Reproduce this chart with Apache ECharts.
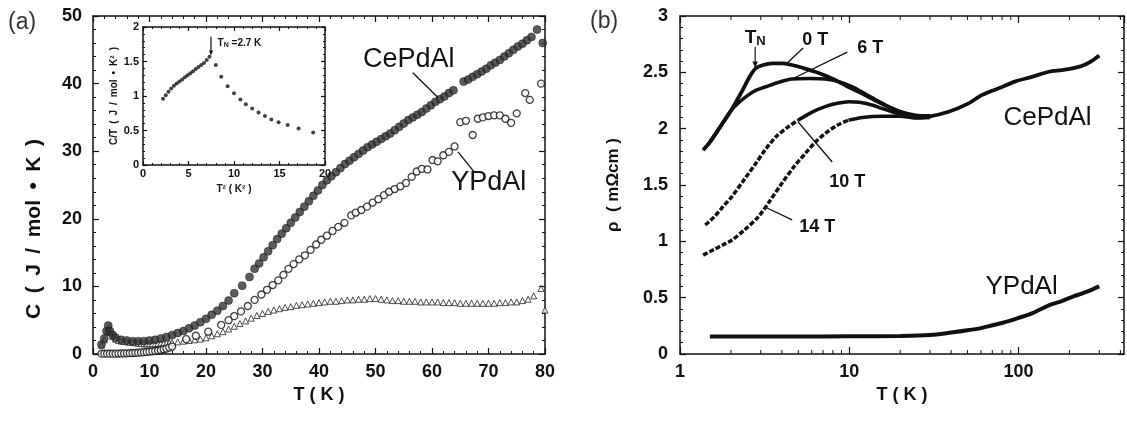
<!DOCTYPE html>
<html><head><meta charset="utf-8">
<script src="https://cdn.jsdelivr.net/npm/echarts@6/dist/echarts.min.js"></script>
<style>html,body{margin:0;padding:0;background:#fff}#c{width:1127px;height:423px}</style>
</head><body><div id="c"></div>
<script>
// ---------- Panel (a): specific heat C(T) ----------
const cePdAlT = [1.5,2,2.4,2.7,3,3.5,4,5,6,7,8,9,10,11,12,13,14,15,16,17,18,19,20,21,22,23,24,25,26.4,27.7,28.6,29.4,30.2,31,31.8,32.6,33.4,34.2,35,35.8,36.6,37.4,38.2,39,39.8,40.6,41.4,42.2,43,43.8,44.6,45.4,46.2,47,47.8,48.6,49.4,50.2,51,51.8,52.6,53.4,54.2,55,55.8,56.6,57.4,58.2,59,59.8,60.6,61.4,62.2,63,63.8,65.6,66.4,67.2,68,68.8,69.6,70.4,71.2,72,72.8,73.6,74.4,75.2,76,76.8,77.6,78.6,79.6];
const cePdAlC = [1.4,2.3,3.4,4.2,3.4,2.8,2.4,2.1,2.0,1.9,1.9,1.9,2.0,2.1,2.3,2.5,2.8,3.1,3.4,3.8,4.2,4.7,5.2,5.8,6.4,7.1,7.9,9.0,10.1,11.4,12.6,13.4,14.3,15.2,16.1,17.0,17.8,18.6,19.4,20.2,21.0,21.8,22.6,23.4,24.2,25.0,25.7,26.3,26.9,27.5,28.1,28.6,29.1,29.6,30.1,30.6,31.0,31.4,31.8,32.2,32.6,33.1,33.6,34.1,34.6,35.0,35.4,35.8,36.3,36.8,37.3,37.7,38.1,38.6,39.0,40.3,40.6,41.0,41.4,41.8,42.2,42.7,43.1,43.5,44.0,44.5,45.0,45.5,45.9,46.4,46.9,48.0,46.0];

const yPdAlT = [1.5,2,2.5,3,3.5,4,4.5,5,5.5,6,6.5,7,7.5,8,8.5,9,9.5,10,10.5,11,11.5,12,12.5,13,13.5,14,16.5,18.2,20.4,22.7,24,25,26.2,27.4,28.6,29.8,30.8,31.8,32.8,33.7,34.6,35.5,36.5,37.5,38.5,39.5,40.4,41.4,42.4,43.4,44.5,45.7,46.5,47.5,48.5,49.5,50.5,51.5,52.4,53.4,54.4,55.4,56.4,57.3,58.2,59.2,60.1,61,62,63,64,65,66,67.2,68.1,69,70,71,72,73,74,75,76.5,77.3,79.3];
const yPdAlC = [0.05,0.05,0.05,0.05,0.05,0.05,0.06,0.08,0.09,0.1,0.12,0.15,0.17,0.2,0.23,0.27,0.3,0.35,0.4,0.45,0.52,0.6,0.7,0.8,0.95,1.1,2.2,2.7,3.3,4.3,5.0,5.6,6.3,7.1,8.0,8.8,9.5,10.2,10.9,11.7,12.6,13.3,14.0,14.6,15.4,16.2,16.9,17.5,18.2,18.8,19.4,20.5,20.9,21.3,21.8,22.4,22.9,23.5,24.0,24.4,24.8,25.3,26.2,27.0,27.4,27.3,28.7,28.5,29.4,29.9,30.7,34.3,34.5,32.4,34.8,35.0,35.2,35.3,35.3,34.8,34.2,35.6,38.6,37.6,40.0];

const diffT = [1.5,2,2.5,2.8,3,3.5,4,4.5,5,5.5,6,6.5,7,7.5,8,8.5,9,9.5,10,10.5,11,11.5,12,12.5,13,13.5,14,15,16,17,18,19,20,21,22,23,24,25,26,27,28,29,30,31,32,33,34,35,36,37,38,39,40,41,42,43,44,45,46,47,48,49,50,51,52,53,54,55,56,57,58,59,60,61,62,63,64,65,66,67,68,69,70,71,72,73,74,75,76,77,78,79.3,80];
const diffC = [1.3,2.1,3.3,4.0,3.2,2.6,2.2,2.0,1.9,1.85,1.8,1.75,1.7,1.65,1.6,1.55,1.5,1.5,1.5,1.5,1.5,1.55,1.6,1.6,1.6,1.65,1.7,1.8,1.9,2.0,2.1,2.2,2.4,2.7,3.0,3.3,3.7,4.1,4.5,4.9,5.3,5.7,6.0,6.3,6.5,6.7,6.9,7.0,7.2,7.3,7.4,7.5,7.6,7.7,7.8,7.8,7.9,8.0,8.0,8.1,8.1,8.2,8.2,8.1,8.0,7.9,7.9,7.8,7.8,7.8,7.7,7.7,7.7,7.7,7.6,7.6,7.6,7.5,7.5,7.5,7.5,7.5,7.5,7.5,7.6,7.6,7.7,7.7,7.9,8.1,8.6,9.7,6.5];

// inset: C/T vs T^2
const insetT2 = [2.2,2.5,2.8,3.1,3.4,3.7,4.0,4.3,4.6,4.9,5.2,5.5,5.8,6.1,6.4,6.7,7.0,7.3,8.0,8.6,9.3,10.0,10.7,11.3,12.0,12.7,13.4,14.1,14.9,15.9,17.1,18.7];
const insetCT = [0.96,1.01,1.06,1.11,1.15,1.18,1.21,1.24,1.27,1.30,1.33,1.36,1.39,1.42,1.45,1.48,1.52,1.57,1.45,1.28,1.14,1.04,0.95,0.88,0.82,0.76,0.71,0.66,0.62,0.58,0.53,0.47];

// ---------- Panel (b): resistivity rho(T) ----------
const t0T = [1.37,1.5,1.7,2.0,2.3,2.6,2.8,3.1,3.5,4.0,4.6,5.3,6.3,7.5,8.8,9.9,12,15.6,20,24.6,30,38.6,50,61,80,96,120,151,180,208,240,270,300];
const t0R = [1.81,1.88,2.0,2.16,2.32,2.47,2.535,2.565,2.58,2.58,2.565,2.54,2.505,2.46,2.41,2.37,2.31,2.22,2.15,2.105,2.11,2.15,2.22,2.30,2.37,2.42,2.46,2.505,2.52,2.535,2.56,2.60,2.65];
const t6T = [1.37,1.5,1.7,2.0,2.3,2.54,2.8,3.18,3.8,4.58,5.9,7.2,8.6,10.5,12.4,15,17.9,20,24.6,30];
const t6R = [1.81,1.88,2.0,2.16,2.25,2.30,2.34,2.37,2.41,2.44,2.445,2.44,2.42,2.37,2.31,2.24,2.18,2.15,2.12,2.115];
const t10T = [1.41,1.6,1.8,2.02,2.4,2.8,3.18,3.7,4.3,5.0,6.0,7.2,8.5,9.9,11.5,13.6,15.6,17.9,20,24.6,30];
const t10R = [1.145,1.22,1.31,1.395,1.55,1.69,1.81,1.93,2.01,2.076,2.145,2.195,2.225,2.24,2.235,2.21,2.18,2.15,2.13,2.1,2.105];
const t14T = [1.37,1.6,1.8,2.02,2.4,2.91,3.4,4.0,4.7,5.5,6.3,7.2,8.5,9.9,12,15.6,20,24.6,30];
const t14R = [0.878,0.93,0.97,1.01,1.10,1.22,1.36,1.515,1.66,1.78,1.88,1.957,2.03,2.076,2.10,2.11,2.11,2.095,2.1];
const yRhoT = [1.5,3,5,10,20,30,40,50,60,70,80,100,120,150,180,210,240,270,300];
const yRhoR = [0.155,0.155,0.155,0.157,0.16,0.168,0.19,0.21,0.23,0.255,0.275,0.32,0.36,0.43,0.47,0.51,0.54,0.57,0.60];

// tick values
const logMajor = [1,10,100];
const logMinor = [2,3,4,5,6,7,8,9,20,30,40,50,60,70,80,90,200,300,400];

const FONT = "'Liberation Sans', Arial, Helvetica, sans-serif";
const INK = '#111';
const pairs = (xs, ys) => xs.map((x, i) => [x, ys[i]]);
const subset = (xs, ys, f) => pairs(xs, ys).filter(p => f(p[0]));

function valAxis(grid, pos, min, max, interval, opts) {
  opts = opts || {};
  const mirror = pos === 'top' || pos === 'right';
  return Object.assign({
    type: 'value', gridIndex: grid, position: pos, min, max, interval,
    axisLine: { show: true, onZero: false, lineStyle: { color: INK, width: 1.5 } },
    axisTick: { show: true, inside: true, length: opts.tick || 6, lineStyle: { color: INK, width: 1.2 } },
    minorTick: { show: true, splitNumber: opts.minor || 5, length: opts.mtick || 3, lineStyle: { color: INK, width: 1 } },
    splitLine: { show: false },
    axisLabel: mirror ? { show: false } : {
      show: true, color: INK, fontFamily: FONT, fontWeight: 'bold',
      fontSize: opts.fs || 18, margin: opts.margin || 8,
      formatter: v => String(+v.toFixed(2))
    }
  }, opts.extra || {});
}

function logAxis(pos) {
  const mirror = pos === 'top';
  return {
    type: 'log', logBase: 10, gridIndex: 2, position: pos, min: 1, max: 420,
    axisLine: { show: true, onZero: false, lineStyle: { color: INK, width: 1.5 } },
    axisTick: { show: true, inside: true, length: 7, lineStyle: { color: INK, width: 1.2 } },
    minorTick: { show: false },
    splitLine: { show: false },
    axisLabel: mirror ? { show: false } : {
      show: true, color: INK, fontFamily: FONT, fontWeight: 'bold', fontSize: 18, margin: 9,
      showMinLabel: true, showMaxLabel: false,
      formatter: v => { const r = Math.round(v); return logMajor.indexOf(r) >= 0 ? String(r) : ''; }
    },
    name: mirror ? '' : 'T ( K )', nameLocation: 'middle', nameGap: 31,
    nameTextStyle: { color: INK, fontFamily: FONT, fontWeight: 'bold', fontSize: 18 }
  };
}

const nameStyle = { color: INK, fontFamily: FONT, fontWeight: 'bold', fontSize: 18 };
const insetName = { color: INK, fontFamily: FONT, fontWeight: 'bold', fontSize: 10 };

const option = {
  animation: false,
  backgroundColor: '#fff',
  textStyle: { fontFamily: FONT },
  grid: [
    { left: 93, top: 16, width: 452, height: 338, containLabel: false },
    { left: 143, top: 27, width: 182, height: 138, show: true, backgroundColor: '#fff', borderWidth: 0, z: 5 },
    { left: 680, top: 16, width: 444, height: 338 }
  ],
  xAxis: [
    valAxis(0, 'bottom', 0, 80, 10, { margin: 9, extra: { name: 'T ( K )', nameLocation: 'middle', nameGap: 31, nameTextStyle: nameStyle } }),
    valAxis(0, 'top', 0, 80, 10),
    valAxis(1, 'bottom', 0, 20, 5, { fs: 11, tick: 4, mtick: 2, margin: 3, extra: { z: 6, name: 'T\u00b2 ( K\u00b2 )', nameLocation: 'middle', nameGap: 19, nameTextStyle: insetName } }),
    valAxis(1, 'top', 0, 20, 5, { tick: 4, mtick: 2, extra: { z: 6 } }),
    logAxis('bottom'),
    logAxis('top')
  ],
  yAxis: [
    valAxis(0, 'left', 0, 50, 10, { margin: 11 }),
    valAxis(0, 'right', 0, 50, 10),
    valAxis(1, 'left', 0, 2, 0.5, { fs: 11, tick: 4, mtick: 2, margin: 4, extra: { z: 6, name: 'C/T\u2002(\u2002J\u2002/\u2002mol\u2002\u2022\u2002K\u00b2\u2002)', nameLocation: 'middle', nameGap: 24, nameTextStyle: insetName } }),
    valAxis(1, 'right', 0, 2, 0.5, { tick: 4, mtick: 2, extra: { z: 6 } }),
    valAxis(2, 'left', 0, 3, 0.5, { margin: 12, extra: { name: '\u03c1  ( m\u03a9cm )', nameLocation: 'middle', nameGap: 58, nameTextStyle: { color: INK, fontFamily: FONT, fontWeight: 'bold', fontSize: 17 } } }),
    valAxis(2, 'right', 0, 3, 0.5)
  ],
  series: [
    { type: 'scatter', xAxisIndex: 0, yAxisIndex: 0, data: pairs(diffT, diffC), symbol: 'triangle', symbolSize: 6,
      itemStyle: { color: '#fff', borderColor: '#222', borderWidth: 1 }, z: 2 },
    { type: 'scatter', xAxisIndex: 0, yAxisIndex: 0, data: pairs(yPdAlT, yPdAlC), symbol: 'circle', symbolSize: 7,
      itemStyle: { color: '#fff', borderColor: '#111', borderWidth: 1.3 }, z: 3 },
    { type: 'scatter', xAxisIndex: 0, yAxisIndex: 0, data: pairs(cePdAlT, cePdAlC), symbol: 'circle', symbolSize: 8,
      itemStyle: { color: '#333', borderColor: '#111', borderWidth: 0.6 }, z: 4 },
    { type: 'scatter', xAxisIndex: 2, yAxisIndex: 2, data: pairs(insetT2, insetCT), symbol: 'circle', symbolSize: 4,
      itemStyle: { color: '#111' }, z: 7 },
    { type: 'line', xAxisIndex: 4, yAxisIndex: 4, data: pairs(yRhoT, yRhoR), smooth: 0.3, showSymbol: false,
      lineStyle: { color: INK, width: 4 } },
    { type: 'line', xAxisIndex: 4, yAxisIndex: 4, data: subset(t14T, t14R, t => t <= 9.9), smooth: 0.3, showSymbol: false,
      lineStyle: { color: INK, width: 3.5, type: [5, 2] } },
    { type: 'line', xAxisIndex: 4, yAxisIndex: 4, data: subset(t14T, t14R, t => t >= 9.9), smooth: 0.3, showSymbol: false,
      lineStyle: { color: INK, width: 3.5 } },
    { type: 'line', xAxisIndex: 4, yAxisIndex: 4, data: subset(t10T, t10R, t => t <= 5.0), smooth: 0.3, showSymbol: false,
      lineStyle: { color: INK, width: 3.5, type: [5, 2] } },
    { type: 'line', xAxisIndex: 4, yAxisIndex: 4, data: subset(t10T, t10R, t => t >= 5.0), smooth: 0.3, showSymbol: false,
      lineStyle: { color: INK, width: 3.5 } },
    { type: 'line', xAxisIndex: 4, yAxisIndex: 4, data: pairs(t6T, t6R), smooth: 0.3, showSymbol: false,
      lineStyle: { color: INK, width: 3.5 } },
    { type: 'line', xAxisIndex: 4, yAxisIndex: 4, data: pairs(t0T, t0R), smooth: 0.3, showSymbol: false,
      lineStyle: { color: INK, width: 3.8 } },
    { type: 'custom', xAxisIndex: 4, yAxisIndex: 4, data: logMinor.map(v => [v, 0]), clip: false, silent: true,
      renderItem: (params, api) => {
        const b = api.coord([api.value(0), 0]);
        const t = api.coord([api.value(0), 3]);
        const st = { stroke: INK, lineWidth: 1 };
        return { type: 'group', children: [
          { type: 'line', shape: { x1: b[0], y1: b[1], x2: b[0], y2: b[1] - 4 }, style: st },
          { type: 'line', shape: { x1: t[0], y1: t[1], x2: t[0], y2: t[1] + 4 }, style: st }
        ] };
      } }
  ]
};

const chart = echarts.init(document.getElementById('c'), null, { renderer: 'canvas' });
chart.setOption(option);

// ---------- annotations in data coordinates ----------
const gridAxes = { 0: { xAxisIndex: 0, yAxisIndex: 0 }, 1: { xAxisIndex: 2, yAxisIndex: 2 }, 2: { xAxisIndex: 4, yAxisIndex: 4 } };
const px = (g, p) => chart.convertToPixel(gridAxes[g], p);

const annoTexts = [
  { g: 0, at: [47.8, 43.5], text: 'CePdAl', size: 27, weight: 'normal', align: 'left' },
  { g: 0, at: [63.4, 25.3], text: 'YPdAl', size: 27, weight: 'normal', align: 'left' },
  { g: 2, at: [81.5, 2.095], text: 'CePdAl', size: 26, weight: 'normal', align: 'left' },
  { g: 2, at: [63.8, 0.595], text: 'YPdAl', size: 26, weight: 'normal', align: 'left' },
  { g: 2, at: [6.29, 2.787], text: '0 T', size: 18, weight: 'bold', align: 'center' },
  { g: 2, at: [13.3, 2.716], text: '6 T', size: 18, weight: 'bold', align: 'center' },
  { g: 2, at: [9.73, 1.527], text: '10 T', size: 18, weight: 'bold', align: 'center' },
  { g: 2, at: [6.47, 1.127], text: '14 T', size: 18, weight: 'bold', align: 'center' }
];
const annoLeaders = [
  { g: 0, from: [56.6, 41.6], to: [61.1, 37.9] },
  { g: 0, from: [67.6, 26.8], to: [64.6, 29.9] },
  { g: 2, from: [5.34, 2.716], to: [4.30, 2.583] },
  { g: 2, from: [9.73, 2.68], to: [4.66, 2.445] },
  { g: 2, from: [7.93, 1.704], to: [4.99, 2.059] },
  { g: 2, from: [4.6, 1.19], to: [3.27, 1.296] }
];
const annoArrows = [
  { g: 1, from: [7.47, 1.86], to: [7.47, 1.59], head: 3 },
  { g: 2, from: [2.78, 2.725], to: [2.78, 2.54], head: 4 }
];

const gfx = [];
annoTexts.forEach(a => {
  const p = px(a.g, a.at);
  gfx.push({ type: 'text', x: p[0], y: p[1], z: 20,
    style: { text: a.text, fill: INK, fontFamily: FONT, fontSize: a.size, fontWeight: a.weight, align: a.align, verticalAlign: 'middle' } });
});
annoLeaders.forEach(l => {
  const a = px(l.g, l.from), b = px(l.g, l.to);
  gfx.push({ type: 'line', z: 20, shape: { x1: a[0], y1: a[1], x2: b[0], y2: b[1] }, style: { stroke: INK, lineWidth: 1.3 } });
});
annoArrows.forEach(l => {
  const a = px(l.g, l.from), b = px(l.g, l.to), h = l.head;
  gfx.push({ type: 'line', z: 20, shape: { x1: a[0], y1: a[1], x2: b[0], y2: b[1] - 1 }, style: { stroke: INK, lineWidth: 1.2 } });
  gfx.push({ type: 'polygon', z: 20, shape: { points: [[b[0] - h * 0.7, b[1] - h * 1.6], [b[0] + h * 0.7, b[1] - h * 1.6], [b[0], b[1]]] }, style: { fill: INK } });
});
// T_N labels
(function () {
  const p1 = px(1, [8.2, 1.77]);
  gfx.push({ type: 'text', x: p1[0], y: p1[1], z: 20, style: {
    text: '{t|T}{n|N}{t| =2.7 K}', align: 'left', verticalAlign: 'middle',
    rich: { t: { fontFamily: FONT, fontWeight: 'bold', fontSize: 10, fill: INK }, n: { fontFamily: FONT, fontWeight: 'bold', fontSize: 7, fill: INK, padding: [5, 0, 0, 0] } } } });
  const p2 = px(2, [2.78, 2.81]);
  gfx.push({ type: 'text', x: p2[0], y: p2[1], z: 20, style: {
    text: '{t|T}{n|N}', align: 'center', verticalAlign: 'middle',
    rich: { t: { fontFamily: FONT, fontWeight: 'bold', fontSize: 19, fill: INK }, n: { fontFamily: FONT, fontWeight: 'bold', fontSize: 13, fill: INK, padding: [9, 0, 0, 0] } } } });
})();
// panel labels and panel (a) y title
gfx.push({ type: 'text', x: 8, y: 23, style: { text: '(a)', fill: '#333', fontFamily: FONT, fontSize: 23, align: 'left', verticalAlign: 'middle' } });
gfx.push({ type: 'text', x: 590, y: 22, style: { text: '(b)', fill: '#333', fontFamily: FONT, fontSize: 23, align: 'left', verticalAlign: 'middle' } });
gfx.push({ type: 'text', x: 34, y: 229, rotation: Math.PI / 2, style: { text: 'C\u2002(\u2002J\u2002/\u2002mol\u2002\u2022\u2002K\u2002)', fill: INK, fontFamily: FONT, fontWeight: 'bold', fontSize: 21, align: 'center', verticalAlign: 'middle' } });

chart.setOption({ graphic: gfx });
</script></body></html>
